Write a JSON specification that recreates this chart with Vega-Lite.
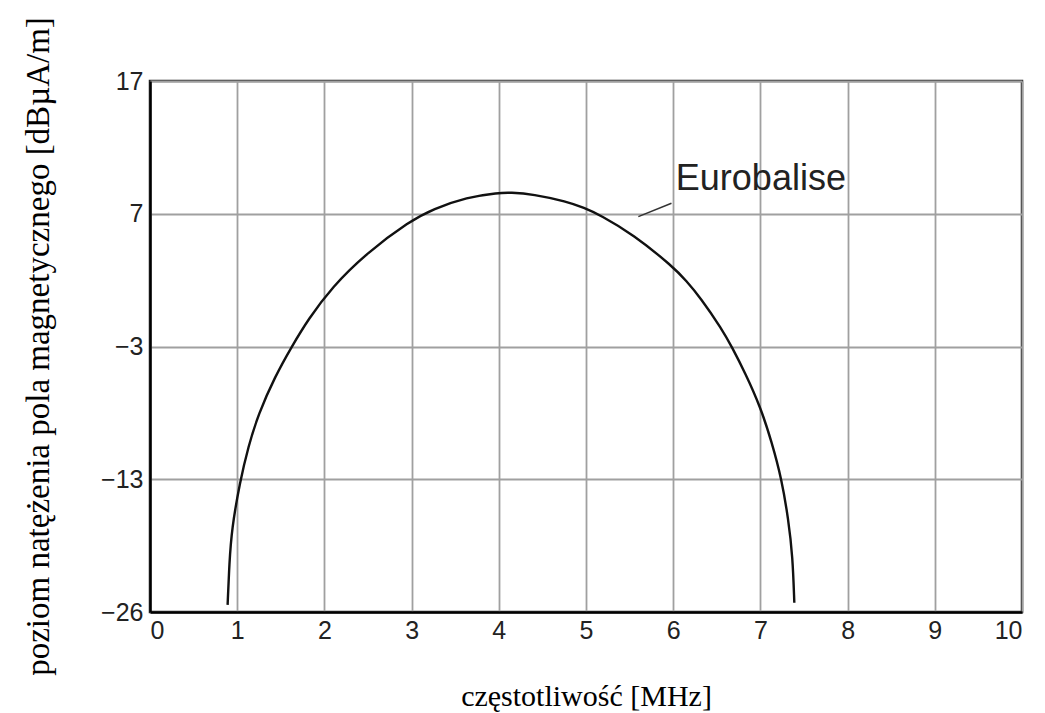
{
  "$schema": "https://vega.github.io/schema/vega-lite/v6.json",
  "width": 872,
  "height": 531,
  "autosize": "none",
  "padding": {"left": 150, "top": 81, "right": 23, "bottom": 101},
  "background": "white",
  "config": {
    "view": {"stroke": "#222", "strokeWidth": 2.5},
    "axis": {
      "labelFont": "Liberation Sans",
      "labelColor": "#222",
      "titleFont": "Liberation Serif",
      "titleFontWeight": "normal",
      "titleColor": "#000",
      "gridColor": "#a0a0a0",
      "gridWidth": 1.8,
      "gridOpacity": 1,
      "ticks": false,
      "domainColor": "#000",
      "domainWidth": 2.5
    }
  },
  "datasets": {
    "curve": [
      {"f": 0.89, "v": -25.3},
      {"f": 0.91, "v": -21.2},
      {"f": 0.937, "v": -17.9},
      {"f": 1.03, "v": -13.3},
      {"f": 1.127, "v": -10.55},
      {"f": 1.242, "v": -8.1},
      {"f": 1.433, "v": -5.27},
      {"f": 1.625, "v": -3.01},
      {"f": 1.815, "v": -0.95},
      {"f": 2.084, "v": 1.45},
      {"f": 2.485, "v": 4.05},
      {"f": 2.982, "v": 6.45},
      {"f": 3.245, "v": 7.35},
      {"f": 3.635, "v": 8.25},
      {"f": 4.0, "v": 8.58},
      {"f": 4.128, "v": 8.6},
      {"f": 4.392, "v": 8.48},
      {"f": 4.782, "v": 7.91},
      {"f": 4.977, "v": 7.45},
      {"f": 5.161, "v": 6.91},
      {"f": 5.539, "v": 5.45},
      {"f": 6.0, "v": 3.0},
      {"f": 6.15, "v": 1.95},
      {"f": 6.31, "v": 0.7},
      {"f": 6.56, "v": -1.7},
      {"f": 6.67, "v": -3.0},
      {"f": 6.83, "v": -5.05},
      {"f": 7.0, "v": -7.55},
      {"f": 7.13, "v": -10.2},
      {"f": 7.244, "v": -13.0},
      {"f": 7.32, "v": -16.9},
      {"f": 7.37, "v": -20.55},
      {"f": 7.389, "v": -25.1}
    ],
    "label": [
      {"f": 6.03, "v": 8.79, "text": "Eurobalise", "f1": 5.6, "v1": 6.78, "f2": 5.98, "v2": 7.79}
    ]
  },
  "resolve": {"scale": {"x": "shared", "y": "shared"}},
  "layer": [
    {
      "data": {"name": "curve"},
      "mark": {"type": "line", "color": "#111", "strokeWidth": 2.4, "interpolate": "basis"},
      "encoding": {
        "x": {
          "field": "f",
          "type": "quantitative",
          "scale": {"domain": [0, 10], "nice": false},
          "axis": {
            "values": [0, 1, 2, 3, 4, 5, 6, 7, 8, 9, 10],
            "format": "d",
            "labelFontSize": 25,
            "labelPadding": 6,
            "title": "częstotliwość [MHz]",
            "titleFontSize": 30,
            "titleX": 436,
            "titleY": 84,
            "titleBaseline": "middle",
            "titleAlign": "center"
          }
        },
        "y": {
          "field": "v",
          "type": "quantitative",
          "scale": {
            "domain": [-26, -13, -3, 7, 17],
            "range": [{"expr": "height"}, {"expr": "height*0.75"}, {"expr": "height*0.5"}, {"expr": "height*0.25"}, 0],
            "nice": false,
            "zero": false
          },
          "axis": {
            "values": [-26, -13, -3, 7, 17],
            "format": "d",
            "labelFontSize": 25,
            "labelPadding": 7,
            "title": "poziom natężenia pola magnetycznego [dBµA/m]",
            "titleFontSize": 33,
            "titleAngle": -90,
            "titleX": -112,
            "titleY": 265,
            "titleBaseline": "middle",
            "titleAlign": "center"
          }
        }
      }
    },
    {
      "data": {"name": "label"},
      "mark": {"type": "rule", "color": "#333", "strokeWidth": 1.5},
      "encoding": {
        "x": {"field": "f1", "type": "quantitative"},
        "y": {"field": "v1", "type": "quantitative"},
        "x2": {"field": "f2"},
        "y2": {"field": "v2"}
      }
    },
    {
      "data": {"name": "label"},
      "mark": {"type": "text", "font": "Liberation Sans", "fontSize": 36, "color": "#222", "align": "left", "baseline": "alphabetic"},
      "encoding": {
        "x": {"field": "f", "type": "quantitative"},
        "y": {"field": "v", "type": "quantitative"},
        "text": {"field": "text"}
      }
    }
  ]
}
